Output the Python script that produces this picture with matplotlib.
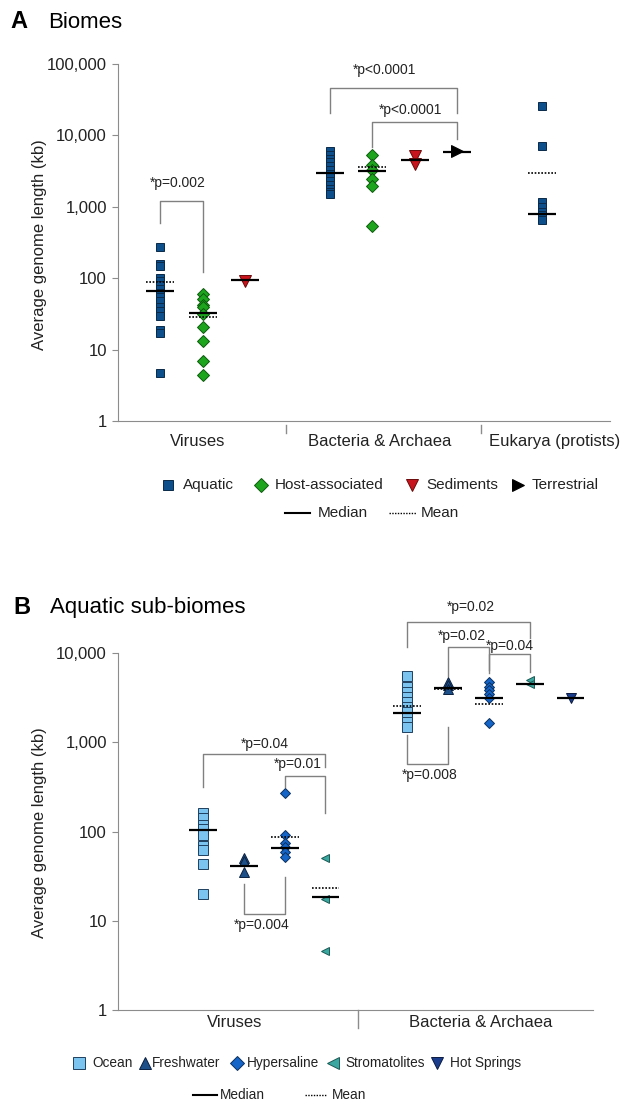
import matplotlib.pyplot as plt
import matplotlib.ticker as mticker
from matplotlib.lines import Line2D
import matplotlib.transforms as mtransforms

plt.rcParams['font.family'] = ['Liberation Sans', 'DejaVu Sans']

W, H = 642, 1102

# ---------------- panel A : biomes ----------------
biome_names = ["Aquatic", "Host-associated", "Sediments", "Terrestrial"]
biome_colors = ["#0d4f8b", "#1ea51e", "#c8141c", "#000000"]
biome_edges = ["#0a2a4a", "#0b5a0b", "#6a0a0a", "#000000"]
biome_markers = ["s", "D", "v", ">"]
domains_a = ["Viruses", "Bacteria & Archaea", "Eukarya (protists)"]

vir_aquatic = [270, 160, 150, 100, 90, 80, 70, 62, 55, 48, 40, 35, 30, 19, 17, 4.7]
vir_host = [60, 51, 42, 40, 32, 20.5, 13.2, 6.9, 4.4]
vir_sediments = [90]
bac_aquatic = [6000, 5300, 4700, 4200, 3700, 3300, 2900, 2600, 2300, 2000, 1800, 1600, 1500]
bac_host = [5300, 3850, 3300, 2450, 1950, 530]
bac_sediments = [5200, 4000]
bac_terrestrial = [6000]
euk_aquatic = [25700, 7100, 1150, 1000, 850, 780, 700, 650]

groups_a = [vir_aquatic, vir_host, vir_sediments,
            bac_aquatic, bac_host, bac_sediments, bac_terrestrial, euk_aquatic]
group_biome_a = [0, 1, 2, 0, 1, 2, 3, 0]
medians_a = [66, 32.5, 95, 2950, 3170, 4550, 5900, 790]
means_a = [88, 28.5, None, None, 3560, None, None, 2950]

# bracket: x1, x2, y of bar, y of left leg end, y of right leg end, label, label y, label x
brackets_a = [
    (1, 2, 1217, 594, 122, "*p=0.002", 2150, 1.42),
    (5, 8, 46500, 20600, 20600, "*p<0.0001", 82600, 6.28),
    (6, 8, 15600, 6960, 8900, "*p<0.0001", 22800, 6.9),
]

# ---------------- panel B : aquatic sub-biomes ----------------
sub_names = ["Ocean", "Freshwater", "Hypersaline", "Stromatolites", "Hot Springs"]
sub_colors = ["#7cc4f0", "#1d4f88", "#1565c8", "#3aa8a0", "#1a3c8c"]
sub_edges = ["#1f3f5f", "#0a2040", "#0a3060", "#1a5a55", "#0a1a40"]
sub_markers = ["s", "^", "D", "<", "v"]
domains_b = ["Viruses", "Bacteria & Archaea"]

vir_ocean = [162, 142, 117, 106, 91, 69, 62, 43, 20]
vir_fresh = [50, 47, 35]
vir_hyper = [270, 91, 74, 67, 59, 52]
vir_strom = [50, 17.4, 4.6]
bac_ocean = [5500, 4170, 3660, 3220, 2830, 2490, 2190, 1920, 1690, 1480]
bac_fresh = [4760, 4360, 4000]
bac_hyper = [4760, 4170, 3830, 3460, 3170, 1660]
bac_strom = [5030, 4450]
bac_hot = [3100]

groups_b = [vir_ocean, vir_fresh, vir_hyper, vir_strom,
            bac_ocean, bac_fresh, bac_hyper, bac_strom, bac_hot]
group_sub_b = [0, 1, 2, 3, 0, 1, 2, 3, 4]
medians_b = [105, 41, 66, 18.3, 2140, 4100, 3150, 4450, 3170]
means_b = [None, None, 87, 23.4, 2550, 3900, 2680, None, None]

brackets_b = [
    (2, 5, 735, 315, 531, "*p=0.04", 955, 3.52),
    (4, 5, 420, 315, 162, "*p=0.01", 569, 4.33),
    (3, 4, 11.9, 25.8, 31, "*p=0.004", 8.9, 3.45),
    (7, 10, 22300, 11700, 14600, "*p=0.02", 33000, 8.55),
    (8, 9, 11700, 5500, 5900, "*p=0.02", 15400, 8.35),
    (9, 10, 9760, 6430, 6150, "*p=0.04", 11900, 9.52),
    (7, 8, 564, 1200, 1470, "*p=0.008", 428, 7.56),
]


def fx(px):
    return px / W


def fy(py):
    return 1 - py / H


def style_axis(ax, ymax):
    ax.set_yscale("log")
    ax.set_ylim(1, ymax)
    ax.yaxis.set_major_formatter(mticker.FuncFormatter(lambda v, p: f"{v:,.0f}"))
    ax.yaxis.set_minor_locator(mticker.NullLocator())
    for s in ["top", "right"]:
        ax.spines[s].set_visible(False)
    for s in ["left", "bottom"]:
        ax.spines[s].set_color("#8c8c8c")
    ax.tick_params(axis="y", colors="#8c8c8c", labelcolor="#222222", labelsize=12,
                   length=4, pad=4)
    ax.set_xticks([])


def draw_groups(ax, positions, groups, cats, colors, edges, markers, sizes,
                medians, means, half):
    for pos, vals, c, med, mn in zip(positions, groups, cats, medians, means):
        ax.plot([pos] * len(vals), vals, linestyle="none", marker=markers[c],
                markersize=sizes[c], markerfacecolor=colors[c],
                markeredgecolor=edges[c], markeredgewidth=0.7, zorder=3, clip_on=False)
        ax.hlines(med, pos - half, pos + half, color="black", lw=1.6, zorder=4)
        if mn is not None:
            ax.hlines(mn, pos - half, pos + half, color="black", lw=1.2,
                      linestyles=(0, (1, 1)), zorder=4)


def draw_brackets(ax, brackets, fs):
    for x1, x2, yb, y1, y2, lab, ty, tx in brackets:
        ax.plot([x1, x1, x2, x2], [y1, yb, yb, y2], color="#808080", lw=1,
                clip_on=False, zorder=2)
        ax.text(tx, ty, lab, ha="center", va="center", fontsize=fs, color="#222222")


fig = plt.figure(figsize=(W / 100, H / 100), dpi=100)

# ---- panel A
axA = fig.add_axes([fx(118), fy(421), fx(610) - fx(118), fy(64) - fy(421)])
style_axis(axA, 100000)
axA.set_xlim(0, 11.6)
slots_a = [1, 2, 3, 5, 6, 7, 8, 10]
draw_groups(axA, slots_a, groups_a, group_biome_a, biome_colors, biome_edges,
            biome_markers, [6, 6.5, 8, 8], medians_a, means_a, 0.33)
draw_brackets(axA, brackets_a, 10)
trA = mtransforms.blended_transform_factory(axA.transData, axA.transAxes)
for sx in [3.95, 8.57]:
    axA.plot([sx, sx], [-0.011, -0.034], color="#8c8c8c", lw=1, transform=trA, clip_on=False)
for lx, lab in zip([1.87, 6.17, 10.29], domains_a):
    axA.text(lx, -0.058, lab, transform=trA, ha="center", va="center", fontsize=12,
             color="#222222")

# ---- panel B
axB = fig.add_axes([fx(118), fy(1010), fx(593) - fx(118), fy(653) - fy(1010)])
style_axis(axB, 10000)
axB.set_xlim(-0.08, 11.55)
slots_b = [2, 3, 4, 5, 7, 8, 9, 10, 11]
draw_groups(axB, slots_b, groups_b, group_sub_b, sub_colors, sub_edges,
            sub_markers, [6.5, 6.5, 5.5, 6, 6.5], medians_b, means_b, 0.34)
draw_brackets(axB, brackets_b, 10)
trB = mtransforms.blended_transform_factory(axB.transData, axB.transAxes)
axB.plot([5.8, 5.8], [0, -0.05], color="#8c8c8c", lw=1, transform=trB, clip_on=False)
for lx, lab in zip([2.78, 8.79], domains_b):
    axB.text(lx, -0.034, lab, transform=trB, ha="center", va="center", fontsize=12,
             color="#222222")

# ---- y labels and titles
fig.text(fx(40), fy(245), "Average genome length (kb)", rotation=90, fontsize=12,
         ha="center", va="center", color="#222222")
fig.text(fx(40), fy(833), "Average genome length (kb)", rotation=90, fontsize=12,
         ha="center", va="center", color="#222222")
fig.text(fx(10), fy(22), "A", fontsize=17, fontweight="bold", va="center")
fig.text(fx(48), fy(22), "Biomes", fontsize=16, va="center")
fig.text(fx(13), fy(607), "B", fontsize=17, fontweight="bold", va="center")
fig.text(fx(50), fy(607), "Aquatic sub-biomes", fontsize=16, va="center")


# ---- legends (drawn in figure pixels)
def legend_marker(px, py, marker, size, fc, ec):
    fig.add_artist(Line2D([fx(px)], [fy(py)], marker=marker, markersize=size,
                          markerfacecolor=fc, markeredgecolor=ec, markeredgewidth=0.7,
                          linestyle="none", transform=fig.transFigure))


def legend_line(px1, px2, py, dotted):
    ls = (0, (1, 1)) if dotted else "-"
    fig.add_artist(Line2D([fx(px1), fx(px2)], [fy(py), fy(py)], color="black",
                          lw=1.0 if dotted else 1.5, linestyle=ls,
                          transform=fig.transFigure))


def legend_text(px, py, s, fs):
    fig.text(fx(px), fy(py), s, fontsize=fs, va="center", color="#222222")


for mx, tx, i in zip([168, 261, 412, 518], [183, 275, 426, 532], range(4)):
    legend_marker(mx, 485, biome_markers[i], [7, 7, 9, 9][i], biome_colors[i], biome_edges[i])
    legend_text(tx, 485, biome_names[i], 11)
legend_line(285, 310, 513, False)
legend_text(318, 513, "Median", 11)
legend_line(389, 416, 513, True)
legend_text(421, 513, "Mean", 11)

for mx, tx, i in zip([79, 145, 237, 333, 437], [92, 152, 247, 345, 450], range(5)):
    legend_marker(mx, 1063, sub_markers[i], [8, 8, 7, 8, 8][i], sub_colors[i], sub_edges[i])
    legend_text(tx, 1063, sub_names[i], 9.8)
legend_line(193, 217, 1095, False)
legend_text(220, 1095, "Median", 9.8)
legend_line(305, 327, 1095, True)
legend_text(332, 1095, "Mean", 9.8)

fig.savefig("out.png", dpi=100)
